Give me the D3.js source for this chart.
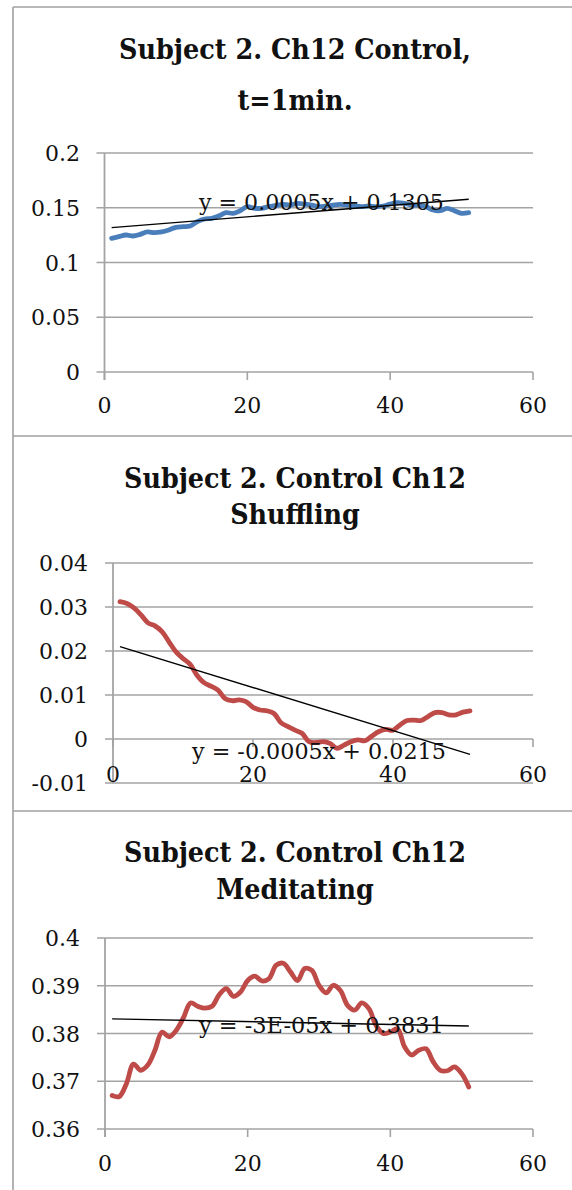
<!DOCTYPE html>
<html>
<head>
<meta charset="utf-8">
<script src="https://cdn.jsdelivr.net/npm/d3@7"></script>
<style>
  html, body { margin: 0; padding: 0; background: #fff; }
  svg { display: block; }
</style>
</head>
<body>
<svg id="chart" width="572" height="1190"></svg>
<script>
// ---------------- DATA ----------------
const xValues = [1,2,3,4,5,6,7,8,9,10,11,12,13,14,15,16,17,18,19,20,21,22,23,24,25,
  26,27,28,29,30,31,32,33,34,35,36,37,38,39,40,41,42,43,44,45,46,47,48,49,50,51];

const controlValues = [0.1221,0.1236,0.1251,0.1242,0.1257,0.1279,0.1272,0.1279,0.1297,0.1321,
  0.1327,0.1333,0.1373,0.1397,0.1403,0.1425,0.1455,0.1449,0.1473,0.1510,
  0.1495,0.1495,0.1510,0.1522,0.1531,0.1525,0.1540,0.1534,0.1525,0.1510,
  0.1516,0.1525,0.1531,0.1525,0.1516,0.1510,0.1516,0.1510,0.1516,0.1534,
  0.1546,0.1540,0.1525,0.1522,0.1510,0.1479,0.1473,0.1495,0.1473,0.1449,0.1455];

const shufflingValues = [0.0312,0.0308,0.0298,0.0282,0.0264,0.0257,0.0244,0.0221,0.0198,0.0183,
  0.0170,0.0145,0.0128,0.0120,0.0111,0.0092,0.0087,0.0089,0.0085,0.0072,
  0.0066,0.0064,0.0058,0.0037,0.0028,0.0020,0.0013,-0.0006,-0.0008,-0.0006,
  -0.0010,-0.0021,-0.0014,-0.0006,-0.0002,-0.0004,0.0007,0.0017,0.0022,0.0020,
  0.0032,0.0042,0.0043,0.0042,0.0051,0.0060,0.0060,0.0055,0.0055,0.0061,0.0064];

const meditatingValues = [0.3670,0.3668,0.3695,0.3736,0.3723,0.3734,0.3765,0.3803,0.3793,0.3807,
  0.3833,0.3864,0.3857,0.3853,0.3857,0.3881,0.3894,0.3878,0.3887,0.3911,
  0.3920,0.3910,0.3915,0.3943,0.3947,0.3929,0.3911,0.3936,0.3932,0.3901,
  0.3885,0.3901,0.3890,0.3859,0.3849,0.3864,0.3852,0.3817,0.3800,0.3803,
  0.3810,0.3772,0.3755,0.3765,0.3768,0.3741,0.3723,0.3722,0.3730,0.3716,0.3688];

// trendline coefficients [slope, intercept]
const controlTrend = [0.00052, 0.1313];
const shufflingTrend = [-0.00049, 0.0215];
const meditatingTrend = [-0.00003, 0.3831];

const titles = [
  ["Subject 2. Ch12 Control,", "t=1min."],
  ["Subject 2. Control Ch12", "Shuffling"],
  ["Subject 2. Control Ch12", "Meditating"]
];
const equations = ["y = 0.0005x + 0.1305", "y = -0.0005x + 0.0215", "y = -3E-05x + 0.3831"];

const xTicks = [0, 20, 40, 60];
const xTickLabels = ["0", "20", "40", "60"];
const controlYTicks = [0, 0.05, 0.1, 0.15, 0.2];
const controlYTickLabels = ["0", "0.05", "0.1", "0.15", "0.2"];
const shufflingYTicks = [-0.01, 0, 0.01, 0.02, 0.03, 0.04];
const shufflingYTickLabels = ["-0.01", "0", "0.01", "0.02", "0.03", "0.04"];
const meditatingYTicks = [0.36, 0.37, 0.38, 0.39, 0.4];
const meditatingYTickLabels = ["0.36", "0.37", "0.38", "0.39", "0.4"];

// ---------------- LAYOUT ----------------
const panels = [
  { values: controlValues, trend: controlTrend, color: "#4A7EBB",
    yTicks: controlYTicks, yLabels: controlYTickLabels, yDomain: [0, 0.2],
    left: 104.5, right: 533, top: 153, bottom: 372, xAxisAt: 0,
    labelRight: 80, xLabelBase: 413, titleBase: [59, 110], titleW: 352,
    eqX: 199, eqBase: 210, eqW: 245 },
  { values: shufflingValues, trend: shufflingTrend, color: "#BE4B48",
    yTicks: shufflingYTicks, yLabels: shufflingYTickLabels, yDomain: [-0.01, 0.04],
    left: 113, right: 533, top: 563, bottom: 783, xAxisAt: 0,
    labelRight: 88, xLabelBase: 782, titleBase: [488, 524], titleW: 342,
    eqX: 192, eqBase: 759, eqW: 254 },
  { values: meditatingValues, trend: meditatingTrend, color: "#BE4B48",
    yTicks: meditatingYTicks, yLabels: meditatingYTickLabels, yDomain: [0.36, 0.4],
    left: 105, right: 533, top: 938, bottom: 1129, xAxisAt: 0.36,
    labelRight: 80, xLabelBase: 1171, titleBase: [862, 899], titleW: 342,
    eqX: 199, eqBase: 1033, eqW: 245 }
];

const svg = d3.select("#chart");
const gridColor = "#a3a3a3";
const serif = "'DejaVu Serif', 'Liberation Serif', serif";
const titleSerif = "'DejaVu Serif Condensed', 'DejaVu Serif', serif";

// panel borders
const border = svg.append("g").attr("stroke", "#a0a0a0").attr("stroke-width", 1.6).attr("fill", "none");
border.append("line").attr("x1", 13).attr("x2", 572).attr("y1", 7).attr("y2", 7);
border.append("line").attr("x1", 13).attr("x2", 13).attr("y1", 7).attr("y2", 1190);
border.append("line").attr("x1", 13).attr("x2", 572).attr("y1", 436).attr("y2", 436);
border.append("line").attr("x1", 13).attr("x2", 572).attr("y1", 811).attr("y2", 811);

panels.forEach((p, i) => {
  const g = svg.append("g");
  const x = d3.scaleLinear().domain([0, 60]).range([p.left, p.right]);
  const y = d3.scaleLinear().domain(p.yDomain).range([p.bottom, p.top]);

  // gridlines + y ticks
  g.selectAll("line.grid").data(p.yTicks).join("line")
    .attr("x1", p.left - 8).attr("x2", p.right)
    .attr("y1", d => y(d)).attr("y2", d => y(d))
    .attr("stroke", gridColor).attr("stroke-width", 1.6);

  // y axis line
  g.append("line").attr("x1", p.left).attr("x2", p.left)
    .attr("y1", p.top).attr("y2", p.bottom + (p.xAxisAt === p.yDomain[0] ? 8 : 0))
    .attr("stroke", gridColor).attr("stroke-width", 1.8);

  // x axis ticks
  const xa = y(p.xAxisAt);
  g.selectAll("line.xt").data(xTicks).join("line")
    .attr("x1", d => x(d)).attr("x2", d => x(d))
    .attr("y1", xa).attr("y2", xa + 8)
    .attr("stroke", gridColor).attr("stroke-width", 1.6);

  // y labels
  g.selectAll("text.yl").data(p.yTicks).join("text")
    .attr("x", p.labelRight).attr("y", d => y(d) + 8)
    .attr("text-anchor", "end")
    .attr("font-family", serif).attr("font-size", 22).attr("fill", "#111")
    .text((d, j) => p.yLabels[j]);

  // x labels
  g.selectAll("text.xl").data(xTicks).join("text")
    .attr("x", d => x(d)).attr("y", p.xLabelBase)
    .attr("text-anchor", "middle")
    .attr("font-family", serif).attr("font-size", 22).attr("fill", "#111")
    .text((d, j) => xTickLabels[j]);

  // data line
  const line = d3.line().x((d, j) => x(xValues[j])).y(d => y(d)).curve(d3.curveCatmullRom.alpha(0.5));
  g.append("path").datum(p.values).attr("d", line)
    .attr("fill", "none").attr("stroke", p.color).attr("stroke-width", 4.8)
    .attr("stroke-linecap", "round").attr("stroke-linejoin", "round");

  // trendline
  const x0 = xValues[0], x1 = xValues[xValues.length - 1];
  g.append("line")
    .attr("x1", x(x0)).attr("y1", y(p.trend[0] * x0 + p.trend[1]))
    .attr("x2", x(x1)).attr("y2", y(p.trend[0] * x1 + p.trend[1]))
    .attr("stroke", "#000").attr("stroke-width", 1.4);

  // equation label
  const eq = g.append("text").attr("x", p.eqX).attr("y", p.eqBase)
    .attr("font-family", serif).attr("font-size", 22).attr("fill", "#111")
    .text(equations[i]);
  const ew = eq.node().getComputedTextLength();
  eq.attr("font-size", 22 * p.eqW / ew);

  // titles
  const t1 = g.append("text").attr("x", 295).attr("y", p.titleBase[0])
    .attr("text-anchor", "middle").attr("font-family", titleSerif).attr("font-weight", "bold")
    .attr("font-size", 26).attr("fill", "#111").text(titles[i][0]);
  const tw = t1.node().getComputedTextLength();
  const fs = 26 * p.titleW / tw;
  t1.attr("font-size", fs);
  g.append("text").attr("x", 295).attr("y", p.titleBase[1])
    .attr("text-anchor", "middle").attr("font-family", titleSerif).attr("font-weight", "bold")
    .attr("font-size", fs).attr("fill", "#111").text(titles[i][1]);
});
</script>
</body>
</html>
